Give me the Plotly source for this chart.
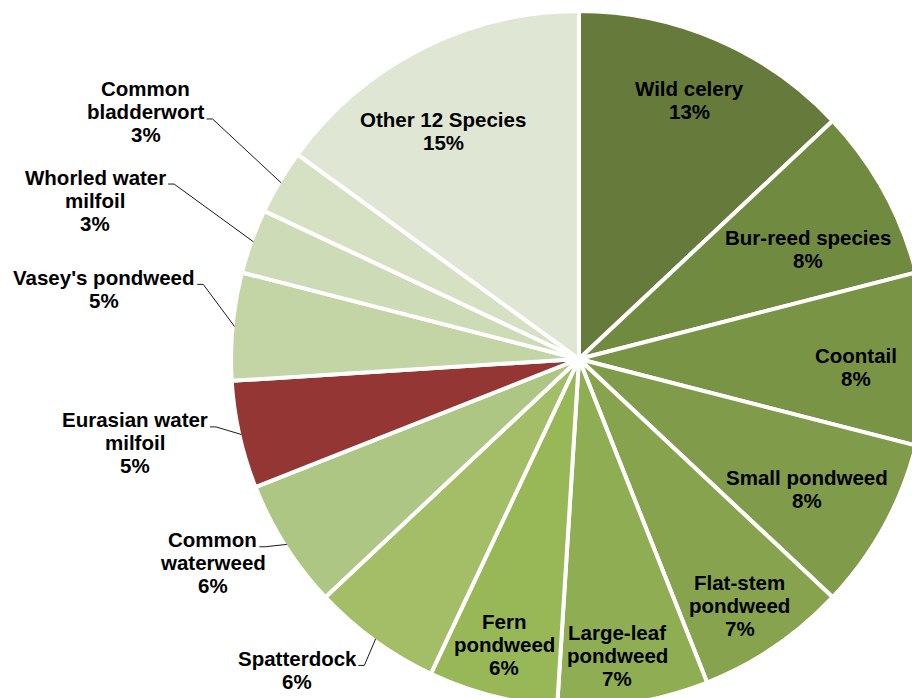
import math
import plotly.graph_objects as go

# ---- data -------------------------------------------------------------
categories = [
    "Wild celery", "Bur-reed species", "Coontail", "Small pondweed",
    "Flat-stem pondweed", "Large-leaf pondweed", "Fern pondweed",
    "Spatterdock", "Common waterweed", "Eurasian water milfoil",
    "Vasey's pondweed", "Whorled water milfoil", "Common bladderwort",
    "Other 12 Species",
]
percent = [13, 8, 8, 8, 7, 7, 6, 6, 6, 5, 5, 3, 3, 15]

# how each category name is wrapped in its label
label_lines = [
    ["Wild celery"], ["Bur-reed species"], ["Coontail"], ["Small pondweed"],
    ["Flat-stem", "pondweed"], ["Large-leaf", "pondweed"], ["Fern", "pondweed"],
    ["Spatterdock"], ["Common", "waterweed"], ["Eurasian water", "milfoil"],
    ["Vasey's pondweed"], ["Whorled water", "milfoil"], ["Common", "bladderwort"],
    ["Other 12 Species"],
]

# ---- styling ----------------------------------------------------------
colors = [
    "#657a3b", "#708b40", "#7a9446", "#809b49", "#87a34d", "#8fae54",
    "#98b858", "#a3be66", "#adc684", "#943734", "#c3d4a5", "#cddbb6",
    "#d6e1c4", "#dfe7d4",
]

# label placement: distance from centre (fraction of radius) and a small
# angular nudge (degrees) away from the slice's mid-angle
label_radius = [0.814, 0.736, 0.802, 0.757, 0.852, 0.863, 0.852,
                1.213, 1.211, 1.306, 1.388, 1.471, 1.441, 0.768]
label_turn = [-0.4, 3.1, 1.7, 0.85, 1.1, 1.6, 0.3,
              6.2, 3.3, 1.9, 3.0, -1.6, -0.9, -3.7]
# index of the name line that a leader line leaves from (None = no leader)
leader_line = [None, None, None, None, None, None, None,
               0, 0, 0, 0, 0, 1, None]

FIG_W, FIG_H = 927, 707
CX, CY = 579, 359          # pie centre in pixels
R_DRAW = 348               # drawn radius (white outline eats 2px)
R_EDGE = 346               # visible radius
FONT_SIZE = 20.5
LINE_STEP = 23
FONT = "Liberation Sans, Arial, sans-serif"

# Helvetica/Arial bold advance widths (1/1000 em) for measuring label lines
AFM_BOLD = {
    " ": 278, "'": 238, "-": 333, "%": 889,
    "A": 722, "B": 722, "C": 722, "E": 667, "F": 611, "L": 611, "O": 778,
    "S": 667, "V": 667, "W": 944,
    "a": 556, "b": 611, "c": 556, "d": 611, "e": 556, "f": 333, "g": 611,
    "h": 611, "i": 278, "k": 556, "l": 278, "m": 889, "n": 611, "o": 611,
    "p": 611, "r": 389, "s": 556, "t": 333, "u": 611, "v": 556, "w": 778,
    "y": 556,
}


def text_width(s):
    return sum(AFM_BOLD.get(ch, 556) for ch in s) * FONT_SIZE / 1000.0


def px(x):
    return x / FIG_W


def py(y):
    return 1 - y / FIG_H


fig = go.Figure(
    go.Pie(
        labels=categories,
        values=percent,
        sort=False,
        direction="clockwise",
        rotation=0,
        marker=dict(colors=colors, line=dict(color="white", width=4)),
        textinfo="none",
        hoverinfo="label+percent",
        showlegend=False,
        domain=dict(
            x=[max(0, px(CX - R_DRAW)), min(1, px(CX + R_DRAW))],
            y=[max(0, py(CY + R_DRAW)), min(1, py(CY - R_DRAW))],
        ),
    )
)

total = float(sum(percent))
annotations = []
shapes = []
cum = 0.0
for i, v in enumerate(percent):
    mid_deg = 360.0 * (cum + v / 2.0) / total
    cum += v

    pct_text = f"{round(100 * v / total)}%"
    lines = label_lines[i] + [pct_text]

    theta = math.radians(mid_deg + label_turn[i])
    bx = CX + label_radius[i] * R_EDGE * math.sin(theta)
    by = CY - label_radius[i] * R_EDGE * math.cos(theta)
    n = len(lines)
    line_y = [by + (k - (n - 1) / 2.0) * LINE_STEP for k in range(n)]

    for k, s in enumerate(lines):
        annotations.append(dict(
            x=px(bx), y=py(line_y[k]), xref="paper", yref="paper",
            text=f"<b>{s}</b>", showarrow=False,
            xanchor="center", yanchor="middle",
            font=dict(family=FONT, size=FONT_SIZE, color="#000000"),
        ))

    k = leader_line[i]
    if k is not None:
        base_y = line_y[k] + 7
        x0 = bx + text_width(lines[k]) / 2.0 + 2
        x1 = x0 + 6
        m = math.radians(mid_deg)
        ex = CX + R_EDGE * math.sin(m)
        ey = CY - R_EDGE * math.cos(m)
        shapes.append(dict(
            type="path", xref="paper", yref="paper",
            path=f"M {px(x0)} {py(base_y)} L {px(x1)} {py(base_y)} L {px(ex)} {py(ey)}",
            line=dict(color="#1a1a1a", width=1),
        ))

fig.update_layout(
    width=FIG_W,
    height=FIG_H,
    margin=dict(l=0, r=0, t=0, b=0),
    paper_bgcolor="white",
    plot_bgcolor="white",
    annotations=annotations,
    shapes=shapes,
)

fig.write_html(
    "out.html",
    config={"displayModeBar": False},
    post_script=(
        "document.body.style.margin='0';"
        "document.body.style.overflow='hidden';"
        "document.documentElement.style.overflow='hidden';"
    ),
)
